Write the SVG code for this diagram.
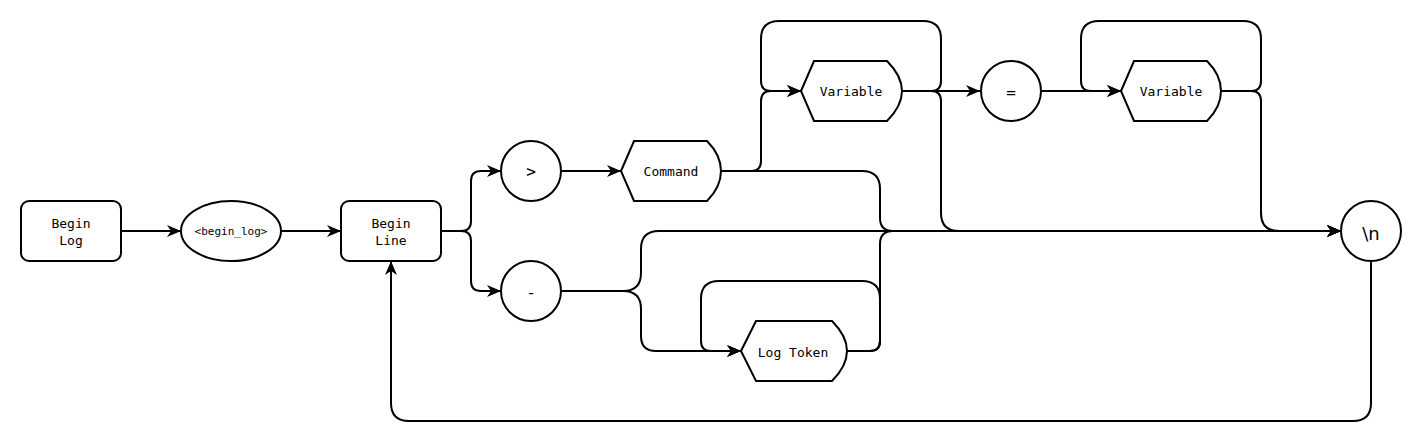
<svg xmlns="http://www.w3.org/2000/svg" width="1422" height="442" viewBox="0 0 1422 442">
<style>
.s{fill:#fff;stroke:#000;stroke-width:2}
.c{fill:none;stroke:#000;stroke-width:2}
.t{font-family:"DejaVu Sans Mono","Liberation Mono",monospace;fill:#000;text-anchor:middle}
.u{font-family:"DejaVu Sans","Liberation Sans",sans-serif;fill:#000;text-anchor:middle}
</style>
<defs>
<marker id="a" markerUnits="userSpaceOnUse" markerWidth="15" markerHeight="13" refX="14" refY="6.5" orient="auto">
<path d="M0,0.5 L14,6.5 L0,12.5 L4,6.5 Z" fill="#000"/>
</marker>
</defs>
<rect width="1422" height="442" fill="#fff"/>
<g id="connectors" class="c">
<path class="c" d="M121,231 H181" marker-end="url(#a)"/>
<path class="c" d="M281,231 H341" marker-end="url(#a)"/>
<path class="c" d="M441,231 H461 Q471,231 471,221 V181 Q471,171 481,171 H501" marker-end="url(#a)"/>
<path class="c" d="M441,231 H461 Q471,231 471,241 V281 Q471,291 481,291 H501" marker-end="url(#a)"/>
<path class="c" d="M561,171 H621" marker-end="url(#a)"/>
<path class="c" d="M721,171 H751 Q761,171 761,161 V101 Q761,91 771,91 H801" marker-end="url(#a)"/>
<path class="c" d="M721,171 H862 Q880,171 880,189 V218 Q880,231 893,231 H1341" marker-end="url(#a)"/>
<path class="c" d="M902,91 H980" marker-end="url(#a)"/>
<path class="c" d="M902,91 H931 Q941,91 941,81 V39 Q941,21 923,21 H779 Q761,21 761,39 V81 Q761,91 771,91 H801" marker-end="url(#a)"/>
<path class="c" d="M902,91 H931 Q941,91 941,101 V213 Q941,231 959,231 H1341" marker-end="url(#a)"/>
<path class="c" d="M1042,91 H1121" marker-end="url(#a)"/>
<path class="c" d="M1221,91 H1251 Q1261,91 1261,81 V39 Q1261,21 1243,21 H1099 Q1081,21 1081,39 V81 Q1081,91 1091,91 H1121" marker-end="url(#a)"/>
<path class="c" d="M1221,91 H1251 Q1261,91 1261,101 V213 Q1261,231 1279,231 H1341" marker-end="url(#a)"/>
<path class="c" d="M561,291 H623 Q641,291 641,273 V249 Q641,231 659,231 H1341" marker-end="url(#a)"/>
<path class="c" d="M561,291 H623 Q641,291 641,309 V336 Q641,351 656,351 H741" marker-end="url(#a)"/>
<path class="c" d="M847,351 H870 Q880,351 880,341 V299 Q880,281 862,281 H719 Q701,281 701,299 V341 Q701,351 711,351 H741" marker-end="url(#a)"/>
<path class="c" d="M847,351 H870 Q880,351 880,341 V244 Q880,231 893,231 H1341" marker-end="url(#a)"/>
<path class="c" d="M1371,261 V403 Q1371,421 1353,421 H409 Q391,421 391,403 V261" marker-end="url(#a)"/>
</g>
<g id="begin-log">
<rect class="s" x="21" y="201" width="100" height="60" rx="8"/>
<text class="t" font-size="13" x="71" y="228">Begin</text>
<text class="t" font-size="13" x="71" y="245">Log</text>
</g>
<g id="begin-log-token">
<ellipse class="s" cx="231" cy="231" rx="50" ry="30"/>
<text class="t" font-size="11" x="231" y="231" dominant-baseline="central">&lt;begin_log&gt;</text>
</g>
<g id="begin-line">
<rect class="s" x="341" y="201" width="100" height="60" rx="8"/>
<text class="t" font-size="13" x="391" y="228">Begin</text>
<text class="t" font-size="13" x="391" y="245">Line</text>
</g>
<g id="gt">
<circle class="s" cx="531" cy="171" r="30"/>
<text class="t" font-size="16" x="531" y="171" dominant-baseline="central">&gt;</text>
</g>
<g id="dash">
<circle class="s" cx="531" cy="291" r="30"/>
<text class="t" font-size="16" x="531" y="292" dominant-baseline="central">-</text>
</g>
<g id="command">
<path class="s" d="M621,171 L634,141 L707,141 C716,150 721,160 721,171 C721,182 716,192 707,201 L634,201 Z"/>
<text class="t" font-size="13" x="671" y="171" dominant-baseline="central">Command</text>
</g>
<g id="variable1">
<path class="s" d="M801,91 L814,61 L887,61 C896,70 902,80 902,91 C902,102 896,112 887,121 L814,121 Z"/>
<text class="t" font-size="13" x="851" y="91" dominant-baseline="central">Variable</text>
</g>
<g id="equals">
<circle class="s" cx="1011" cy="91" r="30"/>
<text class="t" font-size="16" x="1011" y="92" dominant-baseline="central">=</text>
</g>
<g id="variable2">
<path class="s" d="M1121,91 L1134,61 L1207,61 C1216,70 1221,80 1221,91 C1221,102 1216,112 1207,121 L1134,121 Z"/>
<text class="t" font-size="13" x="1171" y="91" dominant-baseline="central">Variable</text>
</g>
<g id="log-token">
<path class="s" d="M741,351 L756,321 L832,321 C841,330 847,340 847,351 C847,362 841,372 832,381 L756,381 Z"/>
<text class="t" font-size="13" x="793" y="352" dominant-baseline="central">Log Token</text>
</g>
<g id="newline">
<circle class="s" cx="1371" cy="231" r="30"/>
<text class="u" font-size="18" x="1371" y="233" dominant-baseline="central">\n</text>
</g>
</svg>
